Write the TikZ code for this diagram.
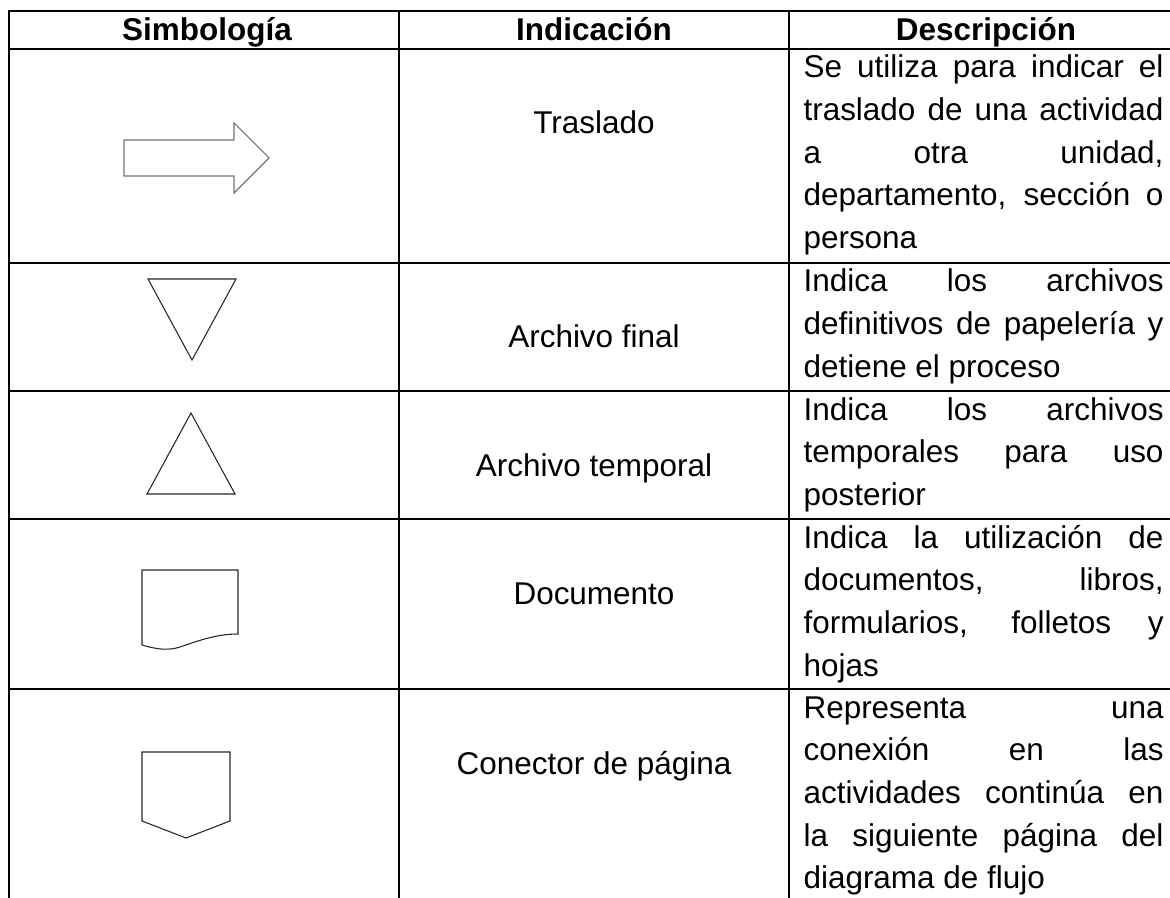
\documentclass[tikz,border=0pt]{standalone}
\usepackage{fontspec}
\setmainfont{Liberation Sans}
\begin{document}
\begin{tikzpicture}[x=0.375pt,y=-0.375pt,
  rule/.style={line width=0.6pt},
  sym/.style={line width=0.4pt, black!85},
  head/.style={font=\fontsize{11.8pt}{13.9pt}\selectfont\bfseries, anchor=base, inner sep=0pt},
  ind/.style={font=\fontsize{11.8pt}{13.9pt}\selectfont, anchor=base, inner sep=0pt},
  desc/.style={font=\fontsize{11.8pt}{16pt}\selectfont, anchor=base west, inner sep=0pt,
    text width=135pt, align=justify}]
  \useasboundingbox (0,0) rectangle (1170,898);

  % Table rules
  \draw[rule] (1170,11) -- (9,11) -- (9,898);
  \foreach \y in {49,263,391,519,689}
    \draw[rule] (9,\y) -- (1170,\y);
  \foreach \x in {399,789}
    \draw[rule] (\x,11) -- (\x,898);

  % Header
  \node[head] (hsim) at (207,41) {Simbología};
  \node[head] (hind) at (594,41) {Indicación};
  \node[head] (hdes) at (986,41) {Descripción};

  % Symbols
  \draw[sym, black!55] (124,140) -- (234,140) -- (234,123) -- (269,158)
    -- (234,193) -- (234,176) -- (124,176) -- cycle;
  \draw[sym] (148,279) -- (236,279) -- (192,360) -- cycle;
  \draw[sym] (191,413) -- (235,494) -- (147,494) -- cycle;
  \draw[sym] (142,645) -- (142,570) -- (238,570) -- (238,634)
    .. controls (215,634) and (195,642) .. (180,647)
    .. controls (168,651) and (155,649) .. (142,645);
  \draw[sym] (142,752) -- (230,752) -- (230,821) -- (186,838) -- (142,821) -- cycle;

  % Indicacion
  \node[ind] (traslado) at (594,134) {Traslado};
  \node[ind] (afinal) at (594,348) {Archivo final};
  \node[ind] (atemp) at (594,476) {Archivo temporal};
  \node[ind] (docu) at (594,604) {Documento};
  \node[ind] (conec) at (594,774) {Conector de página};

  % Descripcion
  \node[desc] (dtras) at (803,78) {Se utiliza para indicar el\linebreak traslado de una actividad\linebreak
    a otra unidad,\linebreak departamento, sección o\linebreak persona};
  \node[desc] (dfinal) at (803,292) {Indica los archivos\linebreak definitivos de papelería y\linebreak
    detiene el proceso};
  \node[desc] (dtemp) at (803,420) {Indica los archivos\linebreak temporales para uso\linebreak posterior};
  \node[desc] (ddocu) at (803,548) {Indica la utilización de\linebreak documentos, libros,\linebreak
    formularios, folletos y\linebreak hojas};
  \node[desc] (dconec) at (803,718) {Representa una\linebreak conexión en las\linebreak
    actividades continúa en\linebreak la siguiente página del\linebreak diagrama de flujo};
\end{tikzpicture}
\end{document}
